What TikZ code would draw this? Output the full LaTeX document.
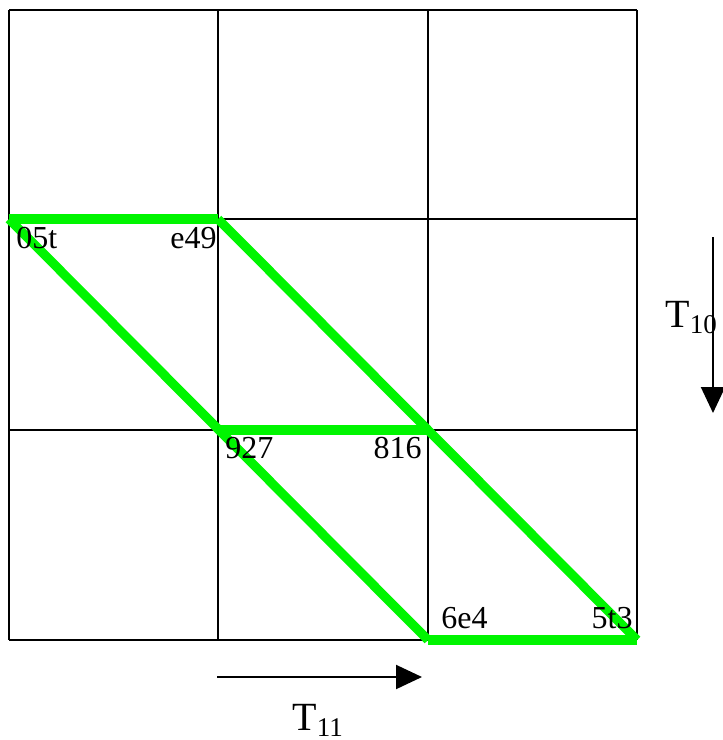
\documentclass[tikz,border=0pt]{standalone}
\usepackage{fontspec}
\setmainfont{Liberation Serif}
\usetikzlibrary{arrows.meta}
\definecolor{verde}{RGB}{0,245,0}
\newcommand{\etiqT}[1]{{\fontsize{20}{22}\selectfont T}\raisebox{-3pt}{\fontsize{13.5}{15}\selectfont #1}}
\begin{document}
\begin{tikzpicture}[x=0.5pt,y=-0.5pt,
  celda/.style={line width=0.8pt},
  camino/.style={verde,line width=4.6pt},
  etiq/.style={inner sep=0pt,font=\fontsize{16}{18}\selectfont},
  flecha/.style={line width=1pt,-{Triangle[length=13pt,width=12pt]}}]
\useasboundingbox (0,0) rectangle (723,740);

% Rejilla
\foreach \x in {9,218,428,637} \draw[celda] (\x,10) -- (\x,640);
\foreach \y in {10,219,430,640} \draw[celda] (9,\y) -- (637,\y);

% Vertices
\coordinate (a) at (9,219);
\coordinate (b) at (218,219);
\coordinate (c) at (218,430);
\coordinate (d) at (428,430);
\coordinate (e) at (428,640);
\coordinate (f) at (637,640);

% Camino verde (tramos sueltos)
\draw[camino] (a) -- (b);
\draw[camino] (a) -- (e);
\draw[camino] (b) -- (f);
\draw[camino] (c) -- (d);
\draw[camino] (e) -- (f);

% Etiquetas
\node[etiq,anchor=base west] (n05t) at (16,248) {05t};
\node[etiq,anchor=base east] (ne49) at (217,248) {e49};
\node[etiq,anchor=base west] (n927) at (225,458) {927};
\node[etiq,anchor=base east] (n816) at (422,458) {816};
\node[etiq,anchor=base west] (n6e4) at (441,628) {6e4};
\node[etiq,anchor=base east] (n5t3) at (633,628) {5t3};

% Flechas
\coordinate (v1) at (713,237);
\coordinate (v2) at (713,413);
\coordinate (h1) at (217,677);
\coordinate (h2) at (422,677);
\draw[flecha] (v1) -- (v2);
\draw[flecha] (h1) -- (h2);
\node[inner sep=0pt,anchor=base west] (t10) at (665,327) {\etiqT{10}};
\node[inner sep=0pt,anchor=base west] (t11) at (292,730) {\etiqT{11}};

\end{tikzpicture}
\end{document}
